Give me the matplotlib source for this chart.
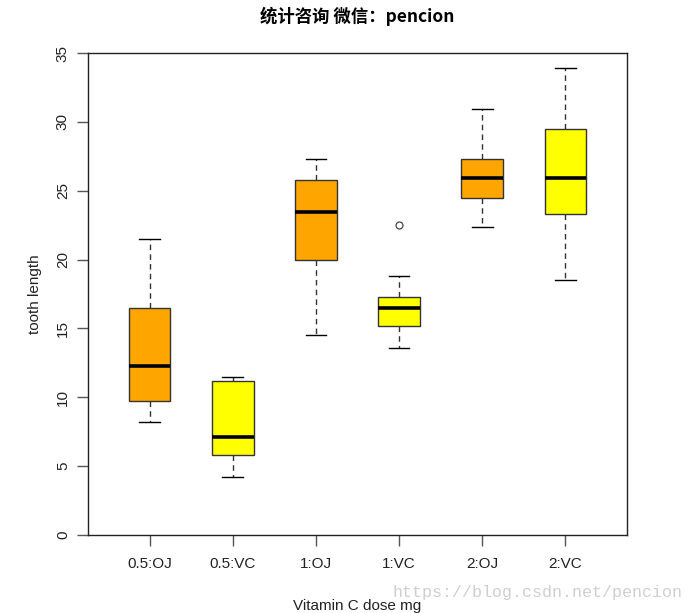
import matplotlib
matplotlib.use("Agg")
import matplotlib.pyplot as plt

plt.rcParams['font.family'] = ['Liberation Sans', 'Noto Sans CJK SC', 'DejaVu Sans']

labels = ["0.5:OJ", "0.5:VC", "1:OJ", "1:VC", "2:OJ", "2:VC"]
medians = [12.25, 7.15, 23.45, 16.5, 25.95, 25.95]
q1 = [9.7, 5.8, 20.0, 15.2, 24.5, 23.3]
q3 = [16.5, 11.2, 25.8, 17.3, 27.3, 29.5]
whislo = [8.2, 4.2, 14.5, 13.6, 22.4, 18.5]
whishi = [21.5, 11.5, 27.3, 18.8, 30.9, 33.9]
fliers = [[], [], [], [22.5], [], []]
colors = ["orange", "yellow", "orange", "yellow", "orange", "yellow"]

fig = plt.figure(figsize=(6.94, 6.13), dpi=100)
ax = fig.add_axes([88/694, 78/613, 539/694, 482/613])

stats = []
for i in range(len(labels)):
    stats.append(dict(label=labels[i], med=medians[i], q1=q1[i], q3=q3[i],
                      whislo=whislo[i], whishi=whishi[i], fliers=fliers[i]))

bp = ax.bxp(stats, positions=range(1, 7), widths=0.5, patch_artist=True,
            boxprops=dict(edgecolor="#333333", linewidth=1.0),
            medianprops=dict(color="black", linewidth=2.6),
            whiskerprops=dict(color="#333333", linestyle=(0, (4, 3)), linewidth=1.0),
            capprops=dict(color="black", linewidth=1.0),
            capwidths=0.25,
            flierprops=dict(marker="o", markerfacecolor="none", markeredgecolor="#444444",
                            markersize=5, markeredgewidth=0.9))
for patch, c in zip(bp["boxes"], colors):
    patch.set_facecolor(c)

ax.set_xlim(0.26, 6.74)
ax.set_ylim(0, 35)
ax.set_yticks([0, 5, 10, 15, 20, 25, 30, 35])
ax.set_xticks(range(1, 7))
ax.set_xticklabels(labels)
ax.tick_params(axis="both", direction="out", length=8, width=1.0, color="#555555",
               labelsize=11, labelcolor="#222222")
ax.tick_params(axis="x", pad=8)
ax.tick_params(axis="y", pad=5)
for lab in ax.get_yticklabels():
    lab.set_rotation(90)
    lab.set_va("center")
for s in ax.spines.values():
    s.set_linewidth(1.0)
    s.set_color("#222222")

ax.set_xlabel("Vitamin C dose mg", fontsize=11, color="#222222", labelpad=20)
ax.set_ylabel("tooth length", fontsize=11, color="#222222", labelpad=10)

fig.text(357/694, 1 - 16/613, "统计咨询 微信：pencion", ha="center", va="center",
         fontsize=12.5, fontweight="bold", family=["Noto Sans CJK SC", "DejaVu Sans"])

fig.text(682/694, 1 - 593/613, "https://blog.csdn.net/pencion", ha="right", va="center",
         fontsize=12, color="#cfcfcf", family=["Liberation Mono", "DejaVu Sans Mono"])

fig.savefig("out.png", dpi=100)
